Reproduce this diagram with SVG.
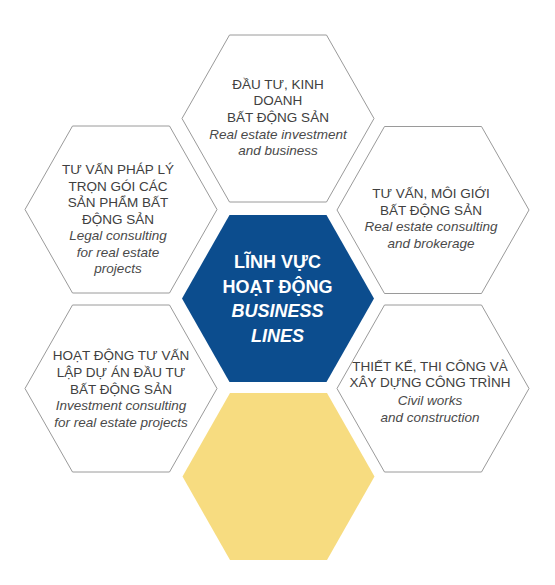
<svg xmlns="http://www.w3.org/2000/svg" xmlns:xlink="http://www.w3.org/1999/xlink" width="555" height="585" viewBox="0 0 555 585">
<style>
.out{fill:#ffffff;stroke:#9a9a9a;stroke-width:1}
.cap{font-family:"Liberation Sans",Arial,sans-serif;font-size:13.5px;fill:#404040;text-anchor:middle}
.it{font-family:"Liberation Sans",Arial,sans-serif;font-size:13.5px;font-style:italic;fill:#4a4a4a;text-anchor:middle}
.ctr{font-family:"Liberation Sans",Arial,sans-serif;font-size:18px;font-weight:bold;fill:#ffffff;text-anchor:middle}
</style>
<defs>
<polygon id="hex" points="-96,0 -48.5,-83.5 48.5,-83.5 96,0 48.5,83.5 -48.5,83.5"/>
</defs>
<rect width="555" height="585" fill="#ffffff"/>
<g id="connectors"></g>
<g id="node-top">
<use xlink:href="#hex" href="#hex" x="278" y="118.5" class="out"/>
<text class="cap" x="278" y="88.5">ĐẦU TƯ, KINH</text>
<text class="cap" x="278" y="105.2">DOANH</text>
<text class="cap" x="278" y="121.9">BẤT ĐỘNG SẢN</text>
<text class="it" x="278" y="138.6">Real estate investment</text>
<text class="it" x="278" y="155.3">and business</text>
</g>
<g id="node-left-top">
<use xlink:href="#hex" href="#hex" x="121" y="209.5" class="out"/>
<text class="cap" x="118" y="174">TƯ VẤN PHÁP LÝ</text>
<text class="cap" x="118" y="190.5">TRỌN GÓI CÁC</text>
<text class="cap" x="118" y="207">SẢN PHẨM BẤT</text>
<text class="cap" x="118" y="223.5">ĐỘNG SẢN</text>
<text class="it" x="118" y="240">Legal consulting</text>
<text class="it" x="118" y="256.5">for real estate</text>
<text class="it" x="118" y="273">projects</text>
</g>
<g id="node-right-top">
<use xlink:href="#hex" href="#hex" x="433" y="210" class="out"/>
<text class="cap" x="431" y="198">TƯ VẤN, MÔI GIỚI</text>
<text class="cap" x="431" y="214.7">BẤT ĐỘNG SẢN</text>
<text class="it" x="431" y="231.4">Real estate consulting</text>
<text class="it" x="431" y="248.1">and brokerage</text>
</g>
<g id="node-center">
<use xlink:href="#hex" href="#hex" x="278" y="298.5" fill="#0c4d8e"/>
<text class="ctr" x="277.5" y="268.3">LĨNH VỰC</text>
<text class="ctr" x="277.5" y="292.7">HOẠT ĐỘNG</text>
<text class="ctr" x="277.5" y="317.1" font-style="italic">BUSINESS</text>
<text class="ctr" x="277.5" y="341.5" font-style="italic">LINES</text>
</g>
<g id="node-left-bottom">
<use xlink:href="#hex" href="#hex" x="121" y="388.5" class="out"/>
<text class="cap" x="121" y="360">HOẠT ĐỘNG TƯ VẤN</text>
<text class="cap" x="121" y="376.8">LẬP DỰ ÁN ĐẦU TƯ</text>
<text class="cap" x="121" y="393.6">BẤT ĐỘNG SẢN</text>
<text class="it" x="121" y="410.4">Investment consulting</text>
<text class="it" x="121" y="427.2">for real estate projects</text>
</g>
<g id="node-right-bottom">
<use xlink:href="#hex" href="#hex" x="433" y="388.5" class="out"/>
<text class="cap" x="430" y="370.5">THIẾT KẾ, THI CÔNG VÀ</text>
<text class="cap" x="430" y="387.3">XÂY DỰNG CÔNG TRÌNH</text>
<text class="it" x="430" y="404.6">Civil works</text>
<text class="it" x="430" y="421.6">and construction</text>
</g>
<g id="node-bottom">
<use xlink:href="#hex" href="#hex" x="278.5" y="476.5" fill="#f7dc80"/>
</g>
</svg>
